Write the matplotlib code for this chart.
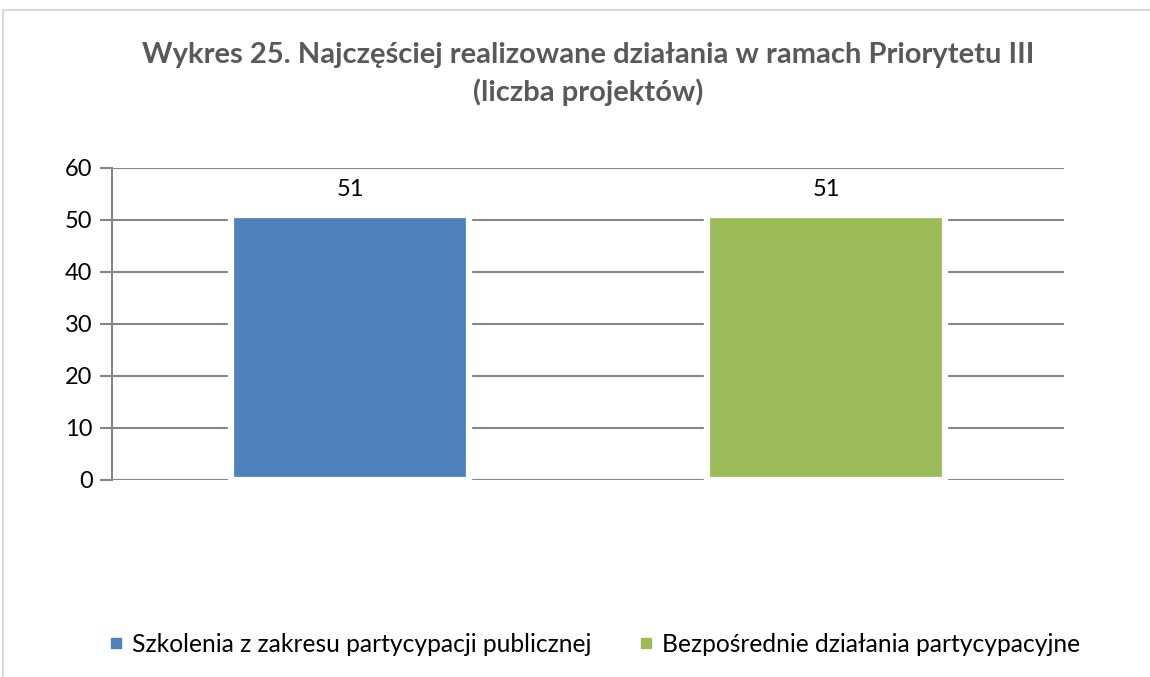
import matplotlib.pyplot as plt
from matplotlib.lines import Line2D

# dane z wykresu
categories = ['Szkolenia z zakresu partycypacji publicznej', 'Bezpośrednie działania partycypacyjne']
values = [51, 51]
colors = ['#4f81bd', '#9bbb59']
title = 'Wykres 25. Najczęściej realizowane działania w ramach Priorytetu III\n(liczba projektów)'

plt.rcParams['font.family'] = ['Lato', 'DejaVu Sans']

fig = plt.figure(figsize=(11.5, 6.77), dpi=100)
ax = fig.add_axes([112 / 1150, 1 - 480 / 677, (1064 - 112) / 1150, (480 - 168) / 677])

x = range(len(values))
bars = ax.bar(x, values, width=0.5, color=colors, edgecolor='white', linewidth=4.5, zorder=3)
for b, v in zip(bars, values):
    ax.annotate(str(v), (b.get_x() + b.get_width() / 2, v), xytext=(0, 18), textcoords='offset points',
                ha='center', va='center', fontsize=17, color='black')

ax.set_xlim(-0.5, 1.5)
ax.set_ylim(0, 60)
ax.set_yticks(range(0, 61, 10))
ax.set_xticks([])
ax.grid(axis='y', color='#868686', linewidth=1.5, zorder=0)
ax.tick_params(axis='y', length=9, width=1.5, color='#868686', labelsize=17, pad=5)
for s in ['top', 'right', 'bottom']:
    ax.spines[s].set_visible(False)
ax.spines['left'].set_color('#868686')
ax.spines['left'].set_linewidth(1.5)

fig.text(588 / 1150, 1 - 74 / 677, title, ha='center', va='center', fontsize=21, fontweight='bold',
         color='#595959', linespacing=1.42)

handles = [Line2D([], [], marker='s', linestyle='none', markersize=7, color=c) for c in colors]
fig.legend(handles, categories, loc='center', bbox_to_anchor=(595 / 1150, 1 - 644 / 677), ncol=2,
           frameon=False, fontsize=17.7, handlelength=0.5, handletextpad=0.4, columnspacing=2.0)

# ramka wykresu
fig.add_artist(Line2D([3 / 1150, 3 / 1150], [0, 1 - 10 / 677], transform=fig.transFigure, color='#d9d9d9', lw=1.5))
fig.add_artist(Line2D([3 / 1150, 1], [1 - 10 / 677, 1 - 10 / 677], transform=fig.transFigure, color='#d9d9d9', lw=1.5))

fig.savefig('out.png', dpi=100)
